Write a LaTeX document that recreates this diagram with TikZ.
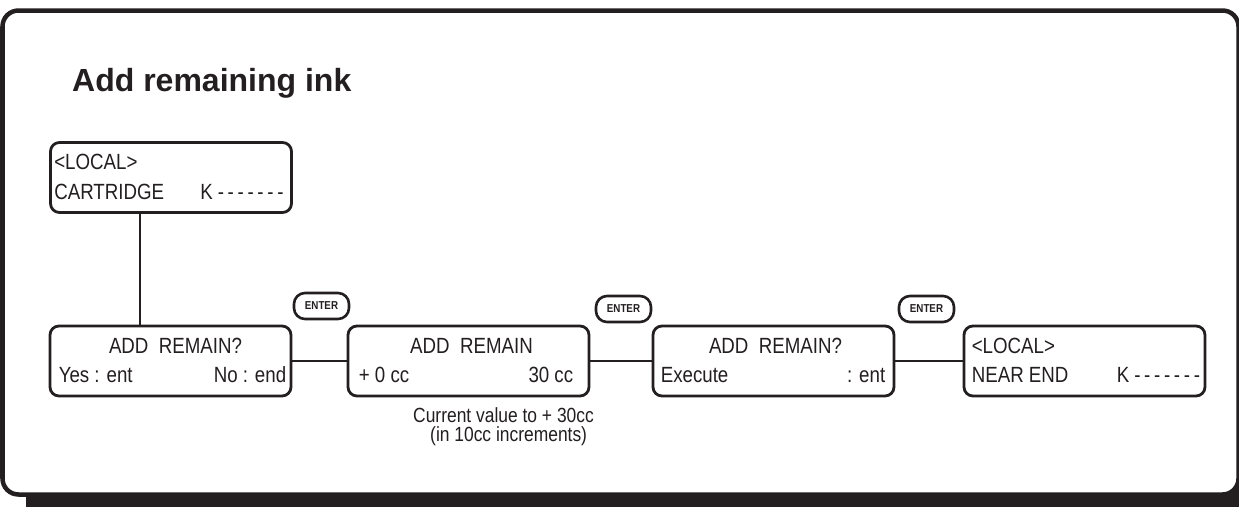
\documentclass[tikz,border=0pt]{standalone}
\usepackage{fontspec}
\setmainfont{Liberation Sans}
\newfontfamily\narrowfont[FakeStretch=0.85]{Liberation Sans}
\usetikzlibrary{calc}
\definecolor{ink}{HTML}{231F20}
\newcommand{\kdashes}{K\hspace{5pt}-\kern3.7pt-\kern3.7pt-\kern3.7pt-\kern3.7pt-\kern3.7pt-\kern3.7pt-}
\begin{document}
\begin{tikzpicture}[x=1pt,y=-1pt,
 lcd/.style={draw=ink, line width=2.8pt, rounded corners=9pt, minimum width=241pt, minimum height=70pt, inner sep=0pt, fill=white},
 enterkey/.style={draw=ink, line width=2.6pt, rounded corners=11pt, minimum width=55pt, minimum height=26pt, inner sep=0pt, font=\narrowfont\fontsize{11.5}{12}\selectfont\bfseries, text=ink},
 txt/.style={font=\narrowfont\fontsize{22}{22}\selectfont, text=ink, inner sep=0pt, anchor=base west},
 txtr/.style={txt, anchor=base east},
 txtc/.style={txt, anchor=base},
 captxt/.style={font=\narrowfont\fontsize{20.5}{20.5}\selectfont, text=ink, inner sep=0pt, anchor=base west},
 wire/.style={draw=ink, line width=2.5pt}
]
\useasboundingbox (0,0) rectangle (1239,506);
% frame with shadow
\fill[ink, rounded corners=8pt] (26,30) rectangle (1262,514);
\draw[ink, line width=4.5pt, fill=white, rounded corners=16pt] (2.5,10.5) rectangle (1238.5,494.5);

\node[font=\fontsize{32}{32}\selectfont\bfseries, text=ink, anchor=base west, inner sep=0pt] (title) at (72,91) {Add remaining ink};

% boxes
\node[lcd] (b1) at (171,177.5) {};
\node[lcd] (b2) at (170.5,361) {};
\node[lcd] (b3) at (468.5,361) {};
\node[lcd] (b4) at (773.5,361) {};
\node[lcd] (b5) at (1084.5,361) {};

% box texts
\node[txt] (t1a) at ($(b1.north west)+(5,28.5)$) {<LOCAL>};
\node[txt] (t1b) at ($(b1.north west)+(5,58.5)$) {CARTRIDGE};
\node[txt] (t1c) at ($(b1.north west)+(151,58.5)$) {\kdashes};

\node[txtc] (t2a) at ($(b2.north)+(5,28.5)$) {ADD\ \ REMAIN?};
\node[txt] (t2b) at ($(b2.north west)+(10,57.5)$) {Yes : ent};
\node[txtr] (t2c) at ($(b2.north east)+(-6,57.5)$) {No : end};

\node[txtc] (t3a) at ($(b3.north)+(3,28.5)$) {ADD\ \ REMAIN};
\node[txt] (t3b) at ($(b3.north west)+(12,57.5)$) {+ 0 cc};
\node[txtr] (t3c) at ($(b3.north east)+(-17,57.5)$) {30 cc};

\node[txtc] (t4a) at ($(b4.north)+(2,28.5)$) {ADD\ \ REMAIN?};
\node[txt] (t4b) at ($(b4.north west)+(9,57.5)$) {Execute};
\node[txtr] (t4c) at ($(b4.north east)+(-10,57.5)$) {: ent};

\node[txt] (t5a) at ($(b5.north west)+(9,28.5)$) {<LOCAL>};
\node[txt] (t5b) at ($(b5.north west)+(9,57.5)$) {NEAR END};
\node[txt] (t5c) at ($(b5.north west)+(154,57.5)$) {\kdashes};

% enter keys
\node[enterkey] (e1) at (321.5,306) {ENTER};
\node[enterkey] (e2) at (623.5,309) {ENTER};
\node[enterkey] (e3) at (926.5,309) {ENTER};

% connectors
\coordinate (v1) at ($(b1.south west)+(91,0)$);
\draw[wire] (v1) -- (v1 |- b2.north);
\draw[wire] (b2.east) -- (b3.west);
\draw[wire] (b3.east) -- (b4.west);
\draw[wire] (b4.east) -- (b5.west);

% caption
\node[captxt] (c1) at (413,422) {Current value to + 30cc};
\node[captxt] (c2) at (430,441) {(in 10cc increments)};
\end{tikzpicture}
\end{document}
